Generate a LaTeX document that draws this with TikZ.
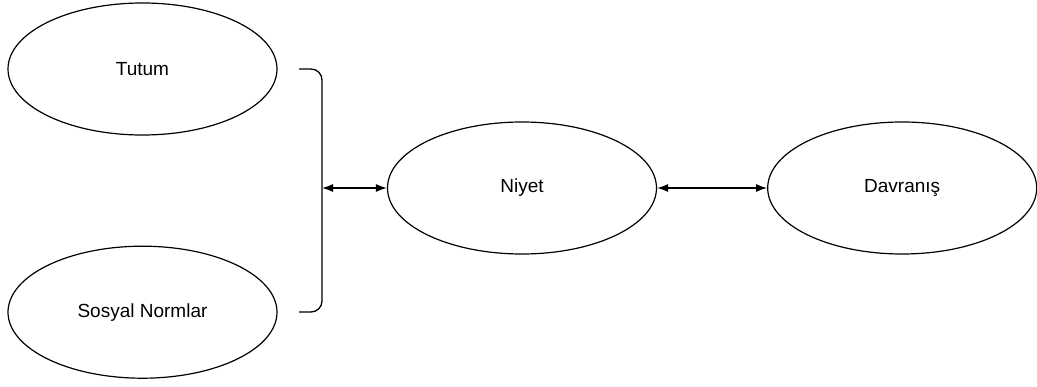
\documentclass[tikz,border=0pt]{standalone}
\usepackage{fontspec}
\setmainfont{Liberation Sans}
\usetikzlibrary{positioning, arrows.meta, shapes.geometric}
\tikzset{
	concept/.style={draw, ellipse, line width=1.2pt, inner sep=0pt, minimum width=269pt, minimum height=132pt, font=\fontsize{19}{22}\selectfont},
	link/.style={line width=1.3pt, {Latex[length=11pt,width=8pt]}-{Latex[length=11pt,width=8pt]}},
}

\begin{document}
\begin{tikzpicture}[x=1pt, y=-1pt]
		\useasboundingbox (0,0) rectangle (1037,387);
		
		\node (tutum) [concept] at (142.5,69) {Tutum};
		\node (sosyal) [concept, below=110pt of tutum] {Sosyal Normlar};
		\node (niyet) [concept] at (522,188) {Niyet};
		\node (davranis) [concept, right=110pt of niyet] {Davranış};
		
		% bracket grouping the two inputs
		\coordinate (b1) at (299,69);
		\coordinate (b2) at (322,69);
		\coordinate (b3) at (322,312);
		\coordinate (b4) at (299,312);
		\coordinate (bm) at (322,188);
		\draw [line width=1.3pt, rounded corners=11pt] (b1) -- (b2) -- (b3) -- (b4);
		
		\begin{scope}[link]
			\draw (bm) -- (niyet);
			\draw (niyet) -- (davranis);
		\end{scope}
		
	\end{tikzpicture}
\end{document}
